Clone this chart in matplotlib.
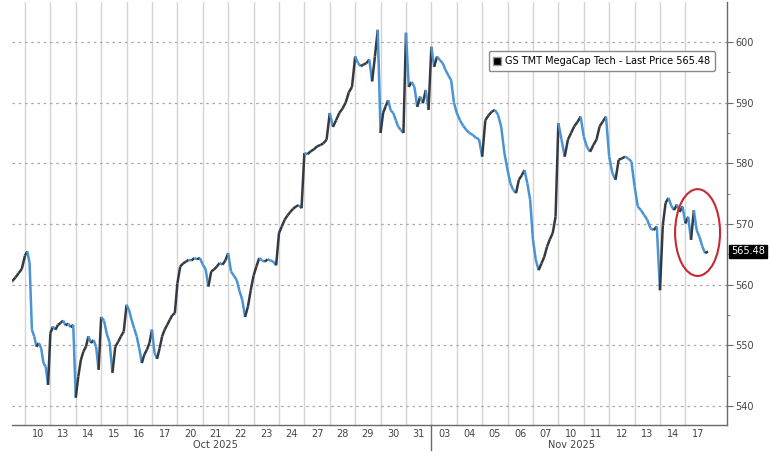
import matplotlib
matplotlib.use("Agg")
import matplotlib.pyplot as plt
import matplotlib.transforms as mtransforms
from matplotlib.collections import LineCollection
from matplotlib.lines import Line2D
from matplotlib.patches import Ellipse
import numpy as np

# trading days shown on the axis (first one is only partly visible)
day_labels = ["09", "10", "13", "14", "15", "16", "17", "20", "21", "22", "23", "24",
              "27", "28", "29", "30", "31", "03", "04", "05", "06", "07",
              "10", "11", "12", "13", "14", "17"]
month_labels = ["Oct 2025", "Nov 2025"]

# intraday prices, one list per trading day
oct09 = [559.8, 560.2, 559.9, 560.3, 560.6, 561.2, 561.9, 562.6]
oct10 = [564.8, 565.5, 563.6, 552.6, 551.5, 549.8, 550.4, 549.6, 547.1, 546.5, 543.5]
oct13 = [552.0, 553.1, 552.6, 553.4, 553.7, 554.1, 553.3, 553.6, 553.0, 553.4]
oct14 = [541.4, 544.9, 547.6, 549.0, 549.8, 551.5, 550.4, 550.9, 549.8, 546.0]
oct15 = [554.7, 554.1, 551.9, 550.5, 545.5, 549.8, 550.6, 551.5, 552.3]
oct16 = [556.7, 555.8, 554.2, 552.8, 551.5, 549.5, 547.1, 548.5, 549.3, 550.4]
oct17 = [552.6, 548.8, 547.8, 549.5, 551.5, 552.6, 553.4, 554.2, 555.0, 555.3]
oct20 = [560.2, 563.0, 563.5, 563.8, 564.1, 564.0, 564.4, 564.2, 564.4]
oct21 = [563.3, 562.6, 559.7, 562.2, 562.5, 563.0, 563.6, 563.3, 564.0]
oct22 = [565.2, 562.2, 561.5, 560.8, 559.0, 557.5, 554.7, 556.4, 559.1]
oct23 = [561.5, 563.0, 564.4, 564.0, 563.8, 564.2, 564.0, 563.8, 563.2]
oct24 = [568.5, 569.6, 570.7, 571.4, 572.0, 572.5, 572.9, 573.1, 572.6]
oct27 = [581.7, 581.5, 582.0, 582.3, 582.8, 583.0, 583.3, 583.9]
oct28 = [588.3, 586.0, 587.1, 588.3, 589.0, 590.0, 591.7, 592.6]
oct29 = [597.6, 596.5, 596.0, 596.3, 596.5, 597.1, 593.5, 597.6, 602.0]
oct30 = [585.0, 588.3, 589.4, 590.4, 588.7, 588.3, 587.1, 586.0, 585.5, 585.0]
oct31 = [601.5, 592.6, 593.4, 592.6, 589.3, 591.0, 589.9, 592.1, 588.8]
nov03 = [599.2, 595.9, 597.6, 597.0, 596.5, 595.4, 594.5, 593.7, 590.0]
nov04 = [588.3, 587.1, 586.2, 585.5, 585.0, 584.7, 584.2, 584.0]
nov05 = [581.1, 587.1, 587.9, 588.5, 588.8, 588.0, 586.0, 581.7]
nov06 = [578.9, 576.7, 575.6, 575.1, 577.3, 578.0, 578.9, 576.7, 574.0]
nov07 = [567.4, 564.1, 562.4, 563.5, 564.6, 566.3, 567.5, 568.5, 571.2]
nov10 = [586.6, 583.9, 581.1, 583.9, 585.0, 586.1, 586.8, 587.7]
nov11 = [584.4, 582.7, 581.9, 583.0, 583.9, 586.1, 586.9, 587.7]
nov12 = [581.1, 578.4, 577.3, 580.6, 580.8, 581.1, 580.8, 580.3]
nov13 = [576.2, 572.9, 572.3, 571.5, 570.7, 569.3, 569.0, 569.6]
nov14 = [559.1, 569.8, 573.5, 574.3, 573.0, 572.3, 573.2, 572.0, 572.9]
nov17 = [570.1, 571.2, 567.4, 572.3, 569.0, 567.9, 566.3, 565.2, 565.48]

sessions = [oct09, oct10, oct13, oct14, oct15, oct16, oct17, oct20, oct21, oct22,
            oct23, oct24, oct27, oct28, oct29, oct30, oct31, nov03, nov04, nov05,
            nov06, nov07, nov10, nov11, nov12, nov13, nov14, nov17]
last_price = nov17[-1]
series_name = "GS TMT MegaCap Tech - Last Price"

# x position = day index + fraction of the session
xs, ys = [], []
for i, sess in enumerate(sessions):
    n = len(sess)
    xs.extend(i + np.arange(n) / n)
    ys.extend(sess)
xs = np.array(xs)
ys = np.array(ys)

fig = plt.figure(figsize=(7.7, 4.66), dpi=100)
ax = fig.add_axes([0.0156, 0.088, 0.9286, 0.908])
ax.set_xlim(0.49, 28.64)
ax.set_ylim(536.9, 606.6)

# grid
for k in range(1, len(sessions)):
    ax.axvline(k, color="#d4d4d4", lw=1.0, zorder=0)
for v in range(540, 601, 10):
    ax.axhline(v, color="#a8a8a8", lw=0.9, ls=(0, (2, 3)), zorder=0)

# price line, blue on down moves, dark on up moves
pts = np.column_stack([xs, ys]).reshape(-1, 1, 2)
segs = np.concatenate([pts[:-1], pts[1:]], axis=1)
cols = ["#4a93d4" if d < 0 else "#353a40" for d in np.diff(ys)]
ax.add_collection(LineCollection(segs, colors=cols, linewidths=1.8, zorder=3))

# axes styling
for s in ["left", "top"]:
    ax.spines[s].set_visible(False)
for s in ["right", "bottom"]:
    ax.spines[s].set_color("#6a6a6a")
    ax.spines[s].set_linewidth(1.0)

ax.yaxis.tick_right()
ax.set_yticks(range(540, 601, 10))
ax.set_yticks(range(545, 601, 10), minor=True)
ax.tick_params(axis="y", which="major", length=4, color="#6a6a6a", labelsize=7,
               labelcolor="#444444", pad=2)
ax.tick_params(axis="y", which="minor", length=2, color="#6a6a6a")

ax.set_xticks(np.arange(1, len(sessions)) + 0.5)
ax.set_xticklabels(day_labels[1:])
ax.tick_params(axis="x", length=0, labelsize=7, labelcolor="#444444", pad=3)

trans = mtransforms.blended_transform_factory(ax.transData, ax.transAxes)
ax.text(8.5, -0.035, month_labels[0], transform=trans, ha="center", va="top",
        fontsize=7, color="#444444")
ax.text(22.5, -0.035, month_labels[1], transform=trans, ha="center", va="top",
        fontsize=7, color="#444444")
ax.plot([17, 17], [0, -0.06], transform=trans, color="#6a6a6a", lw=1.0, clip_on=False)

# legend
handle = Line2D([], [], marker="s", color="none", markerfacecolor="black",
                markeredgecolor="#999999", markersize=6)
leg = ax.legend([handle], [f"{series_name} {last_price:.2f}"], loc="upper right",
                bbox_to_anchor=(0.99, 0.895), fontsize=7, frameon=True, fancybox=True,
                handlelength=0.8, handletextpad=0.4, borderpad=0.5, framealpha=1)
leg.get_frame().set_edgecolor("#8a8a8a")
leg.get_frame().set_linewidth(1.0)

# last price tag
ytrans = mtransforms.blended_transform_factory(ax.transAxes, ax.transData)
ax.text(1.006, last_price, f"{last_price:.2f}", transform=ytrans, ha="left", va="center",
        fontsize=7, color="white",
        bbox=dict(boxstyle="square,pad=0.2", facecolor="black", edgecolor="black"))

# red circle on the latest sell-off
ax.add_patch(Ellipse((27.48, 568.6), 1.77, 14.3, fill=False, edgecolor="#c62a2f",
                     lw=1.5, zorder=4))

fig.savefig("out.png", dpi=100)
